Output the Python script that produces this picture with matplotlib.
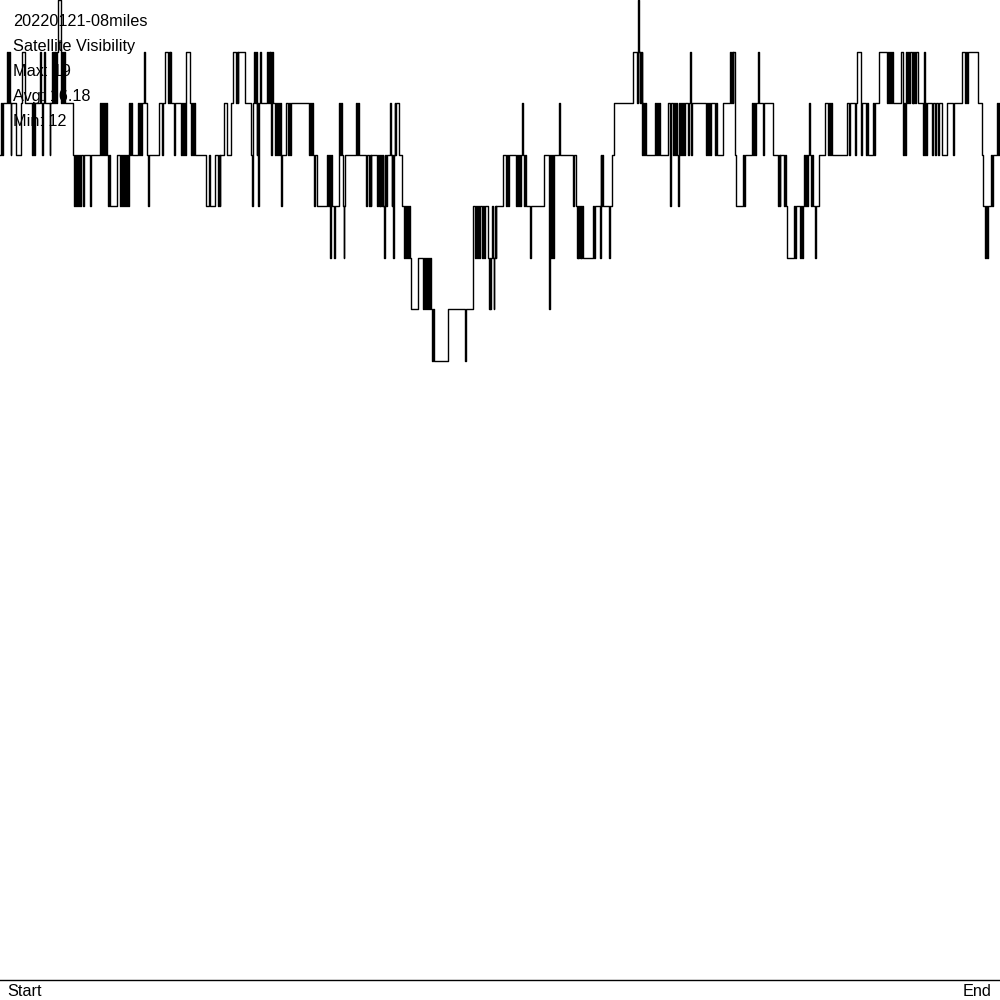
import matplotlib.pyplot as plt

# satellite count trace (time in screen columns 0-1000)
t_a = [0, 1, 2, 3, 7, 8, 8.7, 9.5, 10.5, 11, 16, 21, 22, 24.5, 32, 33, 33.7, 34.5, 40, 41,
       42, 42.5, 43.5, 44.5, 49.5, 50.3, 52, 53, 53.7, 54.5, 55.3, 56, 56.7, 57.5, 60.5, 61.3,
       62, 63, 63.7, 65]
n_a = [16, 17, 16, 17, 18, 17, 18, 17, 16, 17, 16, 17, 18, 17, 16, 17, 16, 17, 18, 17,
       16, 17, 18, 17, 16, 17, 18, 17, 18, 17, 18, 17, 18, 19, 18, 17,
       18, 17, 18, 17]

t_b = [73, 74, 75, 76, 77, 78, 79, 80, 80.5, 83, 83.5, 90, 90.5, 100, 101, 102, 103, 104, 105,
       106, 107, 108, 108.5, 110, 117, 120, 120.7, 122, 123, 124, 125, 126, 127, 128, 129, 130,
       131, 132, 133, 138, 139, 140, 141, 142, 144, 145]
n_b = [16, 15, 16, 15, 16, 15, 16, 15, 16, 15, 16, 15, 16, 17, 16, 17, 16, 17, 16,
       17, 16, 15, 16, 15, 16, 15, 16, 15, 16, 15, 16, 15, 16, 15, 17, 16,
       17, 16, 16, 17, 16, 17, 16, 17, 18, 17]

t_c = [147, 148, 148.5, 159, 162, 162.7, 165, 168, 168.7, 169.5, 170.2, 171, 174, 174.7, 181,
       182, 183, 184, 185, 186, 190, 191, 192, 193, 194, 195, 206, 209, 209.7, 215, 218, 218.7,
       219.5, 220.3, 224, 227, 231, 233, 236, 236.7, 237.5, 238.2, 245, 251, 252, 252.5, 253,
       254, 255, 255.7, 256.5, 257.3, 258, 258.5, 260, 260.5, 267, 268, 268.7, 269.5, 270.2,
       271, 271.5, 272, 272.5, 275, 276, 277, 278, 279, 280, 281, 281.5]
n_c = [16, 15, 16, 17, 16, 17, 18, 17, 18, 17, 18, 17, 16, 17, 16,
       17, 16, 17, 16, 18, 17, 16, 17, 16, 17, 16, 15, 16, 15, 16, 15, 16,
       15, 16, 17, 16, 17, 18, 17, 18, 17, 18, 17, 16, 15, 16, 17,
       18, 17, 18, 16, 17, 15, 17, 18, 17, 18, 17, 18, 17, 18,
       16, 17, 18, 17, 16, 17, 16, 17, 16, 17, 15, 16]

t_d = [286, 288, 289, 290, 291, 309, 310, 311, 312, 313, 314, 314.5, 317, 327, 328, 329, 330,
       330.5, 331, 331.5, 334, 334.5, 339, 340, 341, 341.5, 343, 343.5, 344, 345, 356, 357, 358,
       359, 366, 366.5, 369, 370, 370.7, 371.3, 377, 378, 378.7, 379.5, 380.3, 381, 381.7,
       382.5, 383.3, 384, 384.5, 385.3, 386, 387, 390, 391, 391.7, 392.2, 393, 393.5, 394.5,
       395.3, 396, 399, 402, 404, 404.5, 406, 407, 408, 409, 410, 411, 418, 423, 424, 425, 426,
       427, 427.5, 429, 430, 431]
n_d = [17, 16, 17, 16, 17, 16, 17, 16, 17, 16, 15, 16, 15, 16, 15, 16, 14,
       15, 16, 15, 14, 15, 17, 16, 17, 16, 15, 14, 15, 16, 17, 16, 17,
       16, 15, 16, 15, 16, 15, 16, 15, 16, 15, 16, 15, 16, 15,
       16, 15, 14, 15, 16, 15, 16, 17, 16, 15, 16, 14, 16, 17,
       16, 17, 16, 15, 14, 15, 14, 15, 14, 15, 14, 13, 14, 13, 14, 13, 14,
       13, 14, 13, 14, 13]

t_e = [432, 433, 434, 435, 448, 465, 465.5, 473, 475, 476, 477, 478, 478.7, 479.5, 482, 483,
       484, 485, 488, 488.7, 489.5, 490.3, 491, 492, 492.7, 493.5, 494, 494.7, 495.5, 496.2,
       503, 506, 507, 508, 509, 516, 516.5, 518, 518.5, 520, 520.5, 522, 522.7, 524, 524.5,
       526, 530, 530.5, 544, 549, 549.5, 551, 552, 552.7, 553.5, 559, 559.7]
n_e = [12, 13, 12, 12, 13, 12, 13, 15, 14, 15, 14, 15, 14, 15, 14, 15,
       14, 15, 14, 13, 14, 13, 14, 15, 14, 13, 14, 15, 14, 15,
       16, 15, 16, 15, 16, 15, 16, 15, 16, 15, 16, 17, 16, 15, 16,
       15, 14, 15, 16, 13, 16, 14, 16, 14, 16, 17, 16]

t_f = [573, 573.5, 576, 576.7, 577.5, 578.3, 579, 579.7, 580.5, 581.3, 582, 582.7, 593, 594,
       595, 600, 600.5, 601.3, 602, 603, 604, 609, 609.5, 612, 614, 633, 637, 637.7, 638, 638.5,
       639.5, 640.3, 641, 641.6, 642, 643, 644, 645, 646, 655, 656, 657, 658, 659, 660, 668,
       670, 670.5, 673, 674, 675, 676, 677, 678, 678.5, 679, 680, 680.7, 682, 683, 684, 684.7,
       688, 688.5, 690, 690.5, 691, 691.5, 706, 707, 708, 709, 710, 710.7]
n_f = [15, 16, 15, 14, 15, 14, 15, 14, 15, 14, 15, 14, 15, 14,
       15, 14, 16, 15, 16, 15, 15, 14, 15, 16, 17, 18, 17, 18, 19, 18,
       17, 18, 17, 18, 16, 17, 16, 17, 16, 17, 16, 17, 16, 17, 16, 17,
       15, 17, 16, 17, 16, 17, 16, 15, 16, 17, 16, 17, 16, 17, 16, 17,
       16, 17, 18, 17, 16, 17, 16, 17, 16, 17, 16, 17]

t_g = [715, 716, 717, 723, 730, 731, 731.7, 732.5, 733.3, 735, 736, 743, 744, 745, 747, 752,
       753, 754, 755, 756, 758, 759, 763, 764, 773, 778, 779, 779.7, 780.3, 784, 785, 786, 787,
       794, 795, 796, 800, 801, 802, 803, 804, 805, 806, 807, 808, 809, 809.7, 811, 812, 813,
       815, 815.5, 819, 825, 828, 829, 830, 831, 832, 847, 849, 849.5]
n_g = [16, 17, 16, 17, 18, 17, 18, 17, 18, 16, 15, 16, 15, 16, 16, 17,
       16, 17, 16, 17, 18, 17, 16, 17, 16, 15, 16, 15, 16, 15, 16, 15, 14,
       15, 14, 15, 14, 15, 14, 15, 16, 15, 16, 15, 16, 17, 16, 15, 16, 15,
       14, 15, 16, 17, 16, 17, 16, 17, 16, 17, 16, 17]

t_h = [855, 856, 857, 861, 861.5, 866, 867, 868, 870, 873, 874, 875, 876, 879, 887, 888, 889,
       890, 891, 892, 893, 901, 903, 904, 905, 906, 907, 908, 909, 910, 912, 912.5, 913, 914,
       915, 915.7, 918, 923, 924, 924.5, 925, 926, 927, 932, 932.5, 935, 935.5, 938, 938.5,
       942, 947, 953, 953.5, 962, 965, 966, 967, 967.7, 978, 982, 983, 985, 986, 987, 988,
       991, 992, 993, 997, 998, 999, 1000]
n_h = [16, 17, 18, 16, 17, 16, 17, 16, 16, 17, 16, 17, 17, 18, 17, 18, 17,
       18, 17, 18, 17, 18, 16, 17, 16, 18, 17, 18, 17, 18, 17, 18, 17, 18,
       17, 18, 17, 16, 18, 16, 17, 16, 17, 16, 17, 16, 17, 16, 17,
       16, 17, 16, 17, 18, 17, 18, 17, 18, 17, 16, 15, 14, 15, 14, 15,
       16, 15, 16, 17, 16, 17, 17]

title_lines = ["20220121-08miles", "Satellite Visibility", "Max: 19", "Avg: 16.18", "Min: 12"]
x_labels = ["Start", "End"]

t = t_a + t_b + t_c + t_d + t_e + t_f + t_g + t_h
sats = n_a + n_b + n_c + n_d + n_e + n_f + n_g + n_h

plt.rcParams['font.family'] = ['Liberation Sans', 'DejaVu Sans']

fig = plt.figure(figsize=(10, 10), dpi=100)
ax = fig.add_axes([0, 0, 1, 1])
ax.set_xlim(0, 1000)
ax.set_ylim(-20 * 19 / 980, 19)  # 0 sits at row 980, 19 at the top edge
ax.axis('off')

ax.step(t, sats, where='post', color='black', lw=1.0, zorder=5)
ax.axhline(0, color='black', lw=1.0, zorder=4)

# header text sits under the trace
for i, s in enumerate(title_lines):
    ax.text(0.013, 1 - (21.5 + 25 * i) / 1000, s, transform=ax.transAxes,
            fontsize=11.7, va='center', ha='left', color='black', zorder=1)

ax.text(0.007, 0.0085, x_labels[0], transform=ax.transAxes, fontsize=11.7,
        va='center', ha='left')
ax.text(0.992, 0.0085, x_labels[1], transform=ax.transAxes, fontsize=11.7,
        va='center', ha='right')

fig.savefig('out.png', dpi=100)
